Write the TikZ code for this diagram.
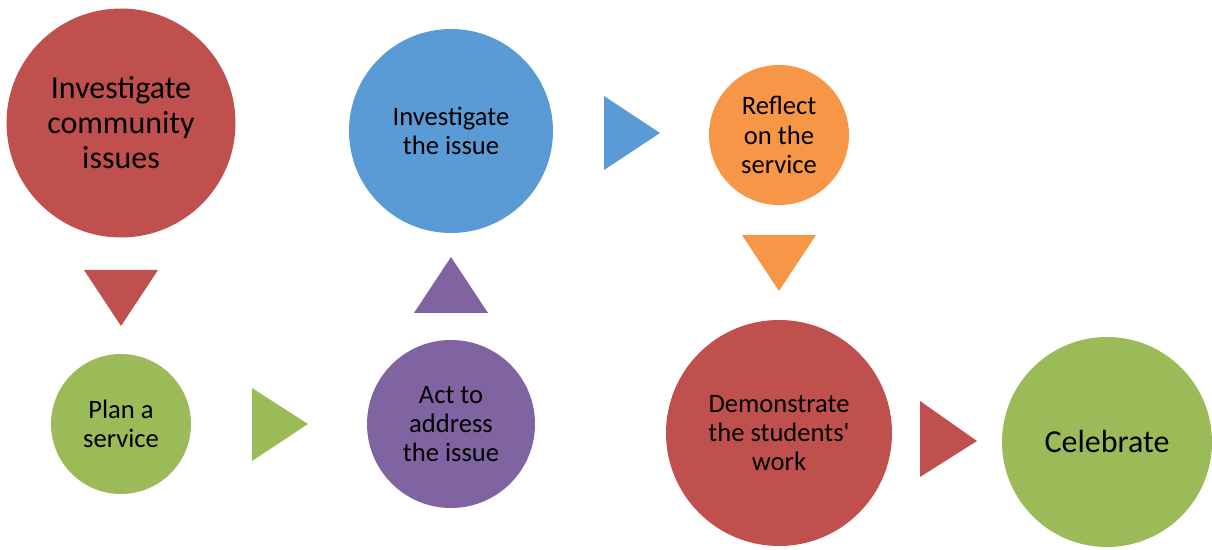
\documentclass[tikz,border=0pt]{standalone}
\usepackage{fontspec}
\setmainfont{Carlito}
\usepackage{tikz}
\definecolor{sred}{HTML}{C0504D}
\definecolor{sgreen}{HTML}{9BBB59}
\definecolor{spurple}{HTML}{8064A2}
\definecolor{sblue}{HTML}{5B9BD5}
\definecolor{sorange}{HTML}{F79646}
\tikzset{
  stage/.style={circle, inner sep=0pt, align=center, text=black},
  bigtext/.style={font=\fontsize{16}{17.5}\selectfont},
  midtext/.style={font=\fontsize{13.3}{14.7}\selectfont}
}
\begin{document}
\begin{tikzpicture}[x={(0.5pt,0)}, y={(0,-0.5pt)}]
  \useasboundingbox (0,0) rectangle (1212,550);

  \node (community) [stage, bigtext, fill=sred, minimum size=114.5pt] at (121,123) {Investigate\\community\\issues};
  \node (plan) [stage, midtext, fill=sgreen, minimum size=70pt] at (121,424) {Plan a\\service};
  \node (act) [stage, midtext, fill=spurple, minimum size=84pt] at (451,424) {Act to\\address\\the issue};
  \node (issue) [stage, midtext, fill=sblue, minimum size=102pt] at (451,131) {Investigate\\the issue};
  \node (reflect) [stage, midtext, fill=sorange, minimum size=70pt] at (779,135) {Reflect\\on the\\service};
  \node (demo) [stage, midtext, fill=sred, minimum size=113pt] at (779,433) {Demonstrate\\the students\textquotesingle\\work};
  \node (celebrate) [stage, bigtext, fill=sgreen, minimum size=105pt] at (1107,442) {Celebrate};

  \fill[sred] (84,270) -- (158,270) -- (121,326) -- cycle;
  \fill[sgreen] (252,388) -- (308,424) -- (252,461) -- cycle;
  \fill[spurple] (451,257) -- (488,313) -- (414,313) -- cycle;
  \fill[sblue] (604,96) -- (660,133) -- (604,170) -- cycle;
  \fill[sorange] (742,235) -- (816,235) -- (779,291) -- cycle;
  \fill[sred] (920,401) -- (977,441) -- (920,477) -- cycle;
\end{tikzpicture}
\end{document}
